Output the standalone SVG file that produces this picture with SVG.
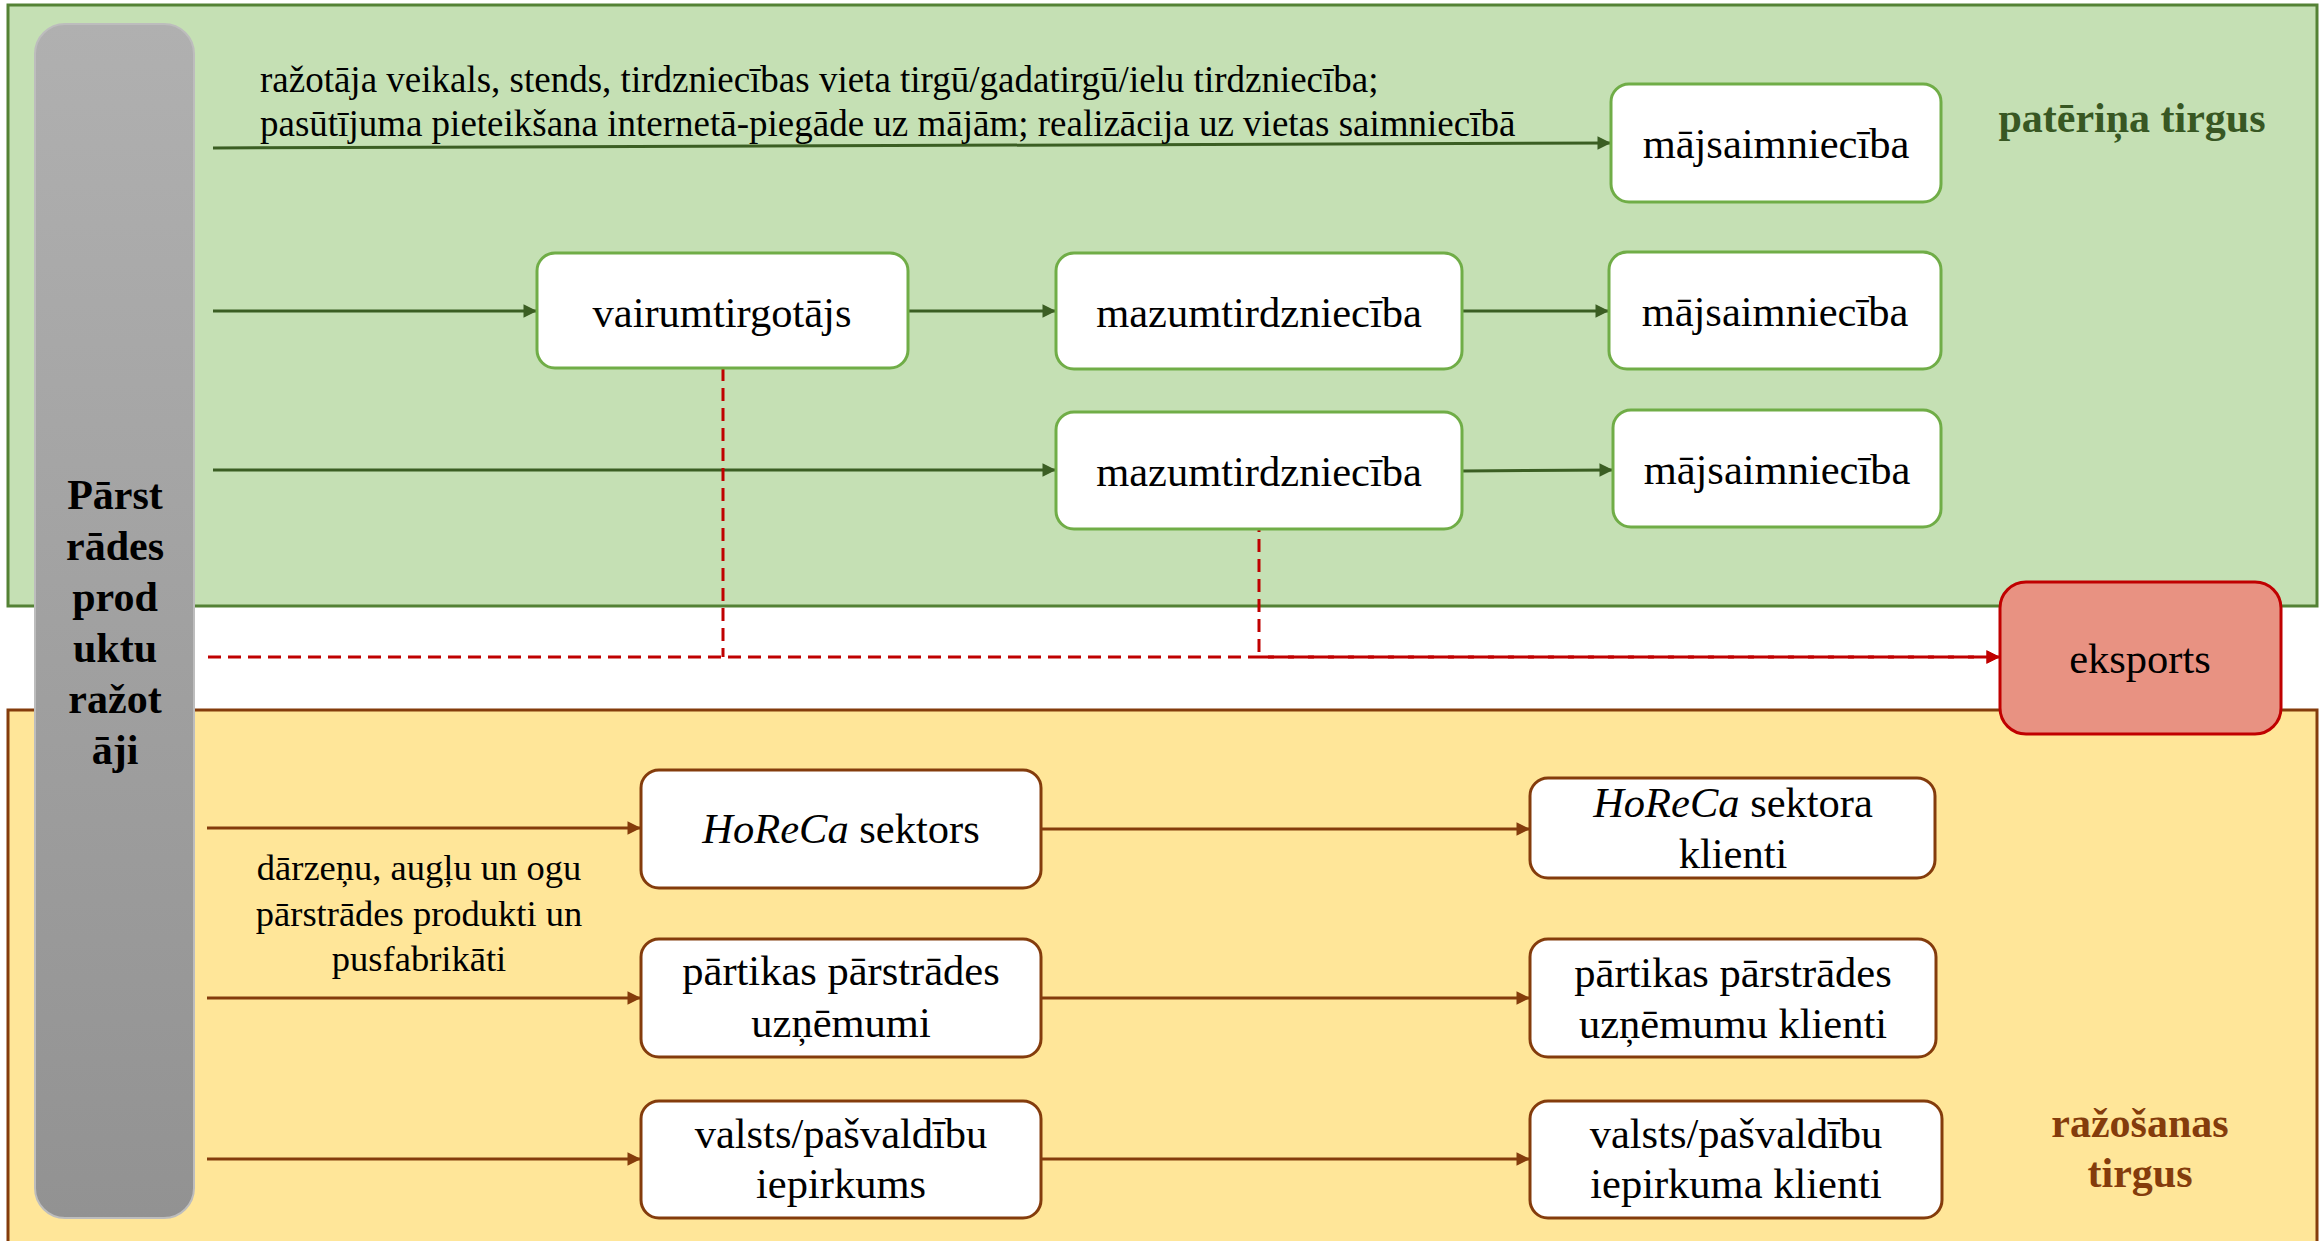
<svg xmlns="http://www.w3.org/2000/svg" width="2323" height="1241" viewBox="0 0 2323 1241">
<defs>
<linearGradient id="grayGrad" x1="0" y1="0" x2="0" y2="1">
<stop offset="0" stop-color="#b0b0b0"/>
<stop offset="1" stop-color="#929292"/>
</linearGradient>
<marker id="arrG" viewBox="0 0 10 10" refX="10" refY="5" markerWidth="5.5" markerHeight="4.5" orient="auto" markerUnits="strokeWidth">
<path d="M0,0 L10,5 L0,10 z" fill="#3b5e23"/>
</marker>
<marker id="arrB" viewBox="0 0 10 10" refX="10" refY="5" markerWidth="5.5" markerHeight="4.5" orient="auto" markerUnits="strokeWidth">
<path d="M0,0 L10,5 L0,10 z" fill="#843c0c"/>
</marker>
<marker id="arrR" viewBox="0 0 10 10" refX="10" refY="5" markerWidth="5.5" markerHeight="4.5" orient="auto" markerUnits="strokeWidth">
<path d="M0,0 L10,5 L0,10 z" fill="#c00000"/>
</marker>
</defs>
<style>
text{font-family:"Liberation Serif","Times New Roman",serif;fill:#000}
.t{font-size:42.5px;text-anchor:middle}
.s{font-size:37px}
.sc{font-size:36.5px;text-anchor:middle}
.b{font-weight:bold;font-size:42px;text-anchor:middle}
.gbox{fill:#fff;stroke:#70ad47;stroke-width:3}
.ybox{fill:#fff;stroke:#843c0c;stroke-width:3}
.ga{fill:none;stroke:#3b5e23;stroke-width:3;marker-end:url(#arrG)}
.ba{fill:none;stroke:#843c0c;stroke-width:3;marker-end:url(#arrB)}
.rd{fill:none;stroke:#c00000;stroke-width:3;stroke-dasharray:13 7}
</style>

<g id="patērina-tirgus-panel">
<rect x="8" y="5" width="2309" height="601" fill="#c5e0b4" stroke="#548235" stroke-width="3"/>
<text class="b" x="2132" y="132" fill="#385723" style="fill:#385723">patēriņa tirgus</text>
</g>
<g id="razosanas-tirgus-panel">
<rect x="8" y="710" width="2309" height="545" fill="#ffe699" stroke="#843c0c" stroke-width="3"/>
<text class="b" x="2140" y="1137" style="fill:#843c0c">ražošanas</text>
<text class="b" x="2140" y="1187" style="fill:#843c0c">tirgus</text>
</g>

<g id="connectors">
<path class="ga" d="M213,148 L1611,143"/>
<path class="ga" d="M213,311 L537,311"/>
<path class="ga" d="M908,311 L1056,311"/>
<path class="ga" d="M1462,311 L1609,311"/>
<path class="ga" d="M213,470 L1056,470"/>
<path class="ga" d="M1462,471 L1613,470"/>
<path class="ba" d="M207,828 L641,828"/>
<path class="ba" d="M1041,829 L1530,829"/>
<path class="ba" d="M207,998 L641,998"/>
<path class="ba" d="M1041,998 L1530,998"/>
<path class="ba" d="M207,1159 L641,1159"/>
<path class="ba" d="M1041,1159 L1530,1159"/>
<path class="rd" d="M723,368 L723,657"/>
<path class="rd" d="M208,657 L2000,657" marker-end="url(#arrR)"/>
<path class="rd" d="M1259,529 L1259,657 L2000,657" stroke-dashoffset="10" marker-end="url(#arrR)"/>
</g>

<g id="top-label">
<text class="s" x="260" y="92">ražotāja veikals, stends, tirdzniecības vieta tirgū/gadatirgū/ielu tirdzniecība;</text>
<text class="s" x="260" y="136">pasūtījuma pieteikšana internetā-piegāde uz mājām; realizācija uz vietas saimniecībā</text>
</g>

<g id="bottom-label">
<text class="sc" x="419" y="880">dārzeņu, augļu un ogu</text>
<text class="sc" x="419" y="926">pārstrādes produkti un</text>
<text class="sc" x="419" y="971">pusfabrikāti</text>
</g>

<g id="producers">
<rect x="35" y="24" width="159" height="1194" rx="30" fill="url(#grayGrad)" stroke="#bdbdbd" stroke-width="2"/>
<text class="b" x="115" y="509">Pārst</text>
<text class="b" x="115" y="560">rādes</text>
<text class="b" x="115" y="611">prod</text>
<text class="b" x="115" y="662">uktu</text>
<text class="b" x="115" y="713">ražot</text>
<text class="b" x="115" y="764">āji</text>
</g>

<g id="majsaimnieciba-1">
<rect class="gbox" x="1611" y="84" width="330" height="118" rx="18"/>
<text class="t" x="1776" y="158">mājsaimniecība</text>
</g>
<g id="vairumtirgotajs">
<rect class="gbox" x="537" y="253" width="371" height="115" rx="18"/>
<text class="t" x="722" y="327">vairumtirgotājs</text>
</g>
<g id="mazumtirdznieciba-1">
<rect class="gbox" x="1056" y="253" width="406" height="116" rx="18"/>
<text class="t" x="1259" y="327">mazumtirdzniecība</text>
</g>
<g id="majsaimnieciba-2">
<rect class="gbox" x="1609" y="252" width="332" height="117" rx="18"/>
<text class="t" x="1775" y="326">mājsaimniecība</text>
</g>
<g id="mazumtirdznieciba-2">
<rect class="gbox" x="1056" y="412" width="406" height="117" rx="18"/>
<text class="t" x="1259" y="486">mazumtirdzniecība</text>
</g>
<g id="majsaimnieciba-3">
<rect class="gbox" x="1613" y="410" width="328" height="117" rx="18"/>
<text class="t" x="1777" y="484">mājsaimniecība</text>
</g>

<g id="eksports">
<rect x="2000" y="582" width="281" height="152" rx="26" fill="#e89282" stroke="#c00000" stroke-width="3"/>
<text class="t" x="2140" y="673">eksports</text>
</g>

<g id="horeca-sektors">
<rect class="ybox" x="641" y="770" width="400" height="118" rx="18"/>
<text class="t" x="841" y="843"><tspan font-style="italic">HoReCa</tspan> sektors</text>
</g>
<g id="partikas-parstrades-uznemumi">
<rect class="ybox" x="641" y="939" width="400" height="118" rx="18"/>
<text class="t" x="841" y="985">pārtikas pārstrādes</text>
<text class="t" x="841" y="1037">uzņēmumi</text>
</g>
<g id="valsts-iepirkums">
<rect class="ybox" x="641" y="1101" width="400" height="117" rx="18"/>
<text class="t" x="841" y="1148">valsts/pašvaldību</text>
<text class="t" x="841" y="1198">iepirkums</text>
</g>
<g id="horeca-klienti">
<rect class="ybox" x="1530" y="778" width="405" height="100" rx="18"/>
<text class="t" x="1733" y="817"><tspan font-style="italic">HoReCa</tspan> sektora</text>
<text class="t" x="1733" y="868">klienti</text>
</g>
<g id="partikas-klienti">
<rect class="ybox" x="1530" y="939" width="406" height="118" rx="18"/>
<text class="t" x="1733" y="987">pārtikas pārstrādes</text>
<text class="t" x="1733" y="1038">uzņēmumu klienti</text>
</g>
<g id="valsts-klienti">
<rect class="ybox" x="1530" y="1101" width="412" height="117" rx="18"/>
<text class="t" x="1736" y="1148">valsts/pašvaldību</text>
<text class="t" x="1736" y="1198">iepirkuma klienti</text>
</g>
</svg>
